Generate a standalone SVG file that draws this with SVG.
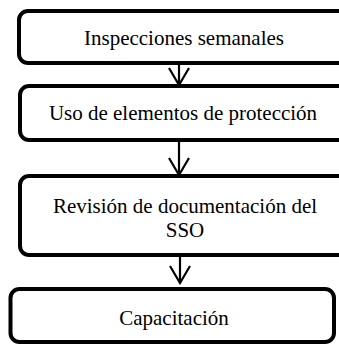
<svg xmlns="http://www.w3.org/2000/svg" width="339" height="345" viewBox="0 0 339 345">
<style>
.box{fill:#fff;stroke:#000;stroke-width:4}
.lbl{font-size:21px;fill:#000;text-anchor:middle}
.con{stroke:#000;stroke-width:2.2;fill:none}
</style>
<defs>
<marker id="vh" viewBox="0 0 20 22" refX="18" refY="11" markerWidth="20" markerHeight="22" markerUnits="userSpaceOnUse" orient="auto">
<path d="M1,1 L18,11 L1,21" fill="none" stroke="#000" stroke-width="2.2"/>
</marker>
</defs>
<rect width="339" height="345" fill="#fff"/>
<g id="connectors">
<line class="con" x1="179" y1="64" x2="179" y2="85" marker-end="url(#vh)"/>
<line class="con" x1="179" y1="142" x2="179" y2="175" marker-end="url(#vh)"/>
<line class="con" x1="180" y1="257" x2="180" y2="283" marker-end="url(#vh)"/>
</g>
<g font-family="Liberation Serif, Times New Roman, serif">
<g id="n1">
<rect class="box" x="19" y="11" width="332" height="52" rx="9"/>
<text class="lbl" x="184" y="45">Inspecciones semanales</text>
</g>
<g id="n2">
<rect class="box" x="20" y="86" width="331" height="54" rx="9"/>
<text class="lbl" x="183" y="120">Uso de elementos de protección</text>
</g>
<g id="n3">
<rect class="box" x="20" y="176" width="331" height="79" rx="9"/>
<text class="lbl" x="185" y="213">Revisión de documentación del</text>
<text class="lbl" x="185" y="237">SSO</text>
</g>
<g id="n4">
<rect class="box" x="10.5" y="289" width="323.5" height="53" rx="9"/>
<text class="lbl" x="174" y="325">Capacitación</text>
</g>
</g>
</svg>
